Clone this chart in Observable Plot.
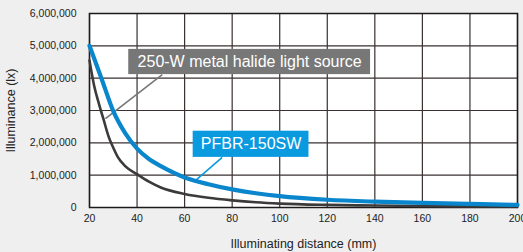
<!DOCTYPE html>
<html>
<head>
<meta charset="utf-8">
<script src="https://cdn.jsdelivr.net/npm/d3@7"></script>
<script src="https://cdn.jsdelivr.net/npm/@observablehq/plot@0.6"></script>
<style>
  html, body { margin: 0; padding: 0; background: #efefef; }
  #chart svg { display: block; }
</style>
</head>
<body>
<div id="chart"></div>
<script>
// Data (illuminance in lx vs distance in mm)
const pfbrDistance = [20, 25, 30, 35, 40, 45, 50, 60, 70, 80, 90, 100, 120, 140, 160, 180, 200];
const pfbrLux = [5000000, 4000000, 2980000, 2300000, 1820000, 1500000, 1280000, 930000, 720000, 560000, 440000, 350000, 240000, 180000, 140000, 110000, 80000];

const halideDistance = [20, 22, 24, 26, 28, 30, 32, 35, 40, 45, 50, 60, 70, 80, 90, 100, 120, 140, 160, 180, 200];
const halideLux = [4550000, 3750000, 3200000, 2700000, 2200000, 1850000, 1550000, 1280000, 1030000, 800000, 620000, 420000, 300000, 220000, 160000, 120000, 80000, 60000, 45000, 35000, 30000];

const xTicks = [20, 40, 60, 80, 100, 120, 140, 160, 180, 200];
const yTicks = [0, 1000000, 2000000, 3000000, 4000000, 5000000, 6000000];

const seriesNames = ["250-W metal halide light source", "PFBR-150SW"];

// Annotation placement (data units)
const annot = [
  {name: seriesNames[0], x1: 36.5, x2: 138.2, y1: 4110000, y2: 4890000, lx1: 50.6, ly1: 4110000, lx2: 26.7, ly2: 2750000, fill: "#777777"},
  {name: seriesNames[1], x1: 63.6, x2: 112.3, y1: 1550000, y2: 2360000, lx1: 75.8, ly1: 1550000, lx2: 63.9, ly2: 790000, fill: "#0a9ae0"}
];

const halide = halideDistance.map((d, i) => ({d, v: halideLux[i]}));
const pfbr = pfbrDistance.map((d, i) => ({d, v: pfbrLux[i]}));

const chart = Plot.plot({
  width: 523,
  height: 252,
  marginLeft: 89,
  marginRight: 6,
  marginTop: 13,
  marginBottom: 45,
  style: {background: "transparent", fontFamily: "Liberation Sans, Arial, sans-serif", fontSize: "12.5px", color: "#222"},
  x: {domain: [20, 200]},
  y: {domain: [0, 6000000]},
  marks: [
    Plot.frame({fill: "white", stroke: null}),
    Plot.gridX(xTicks, {stroke: "#3a3030", strokeOpacity: 1, strokeWidth: 1.2}),
    Plot.gridY(yTicks, {stroke: "#3a3030", strokeOpacity: 1, strokeWidth: 1.2}),
    Plot.frame({stroke: "#1e1a1a", strokeWidth: 1.5}),
    Plot.axisX(xTicks, {tickSize: 0, tickPadding: 7, fontSize: 10.5, label: null}),
    Plot.axisX({label: "Illuminating distance (mm)", labelAnchor: "center", labelArrow: "none", labelOffset: 40, ticks: [], tickSize: 0}),
    Plot.axisY(yTicks, {tickSize: 0, tickPadding: 13, fontSize: 10.5, tickFormat: d3.format(","), label: null}),
    Plot.axisY({label: "Illuminance (lx)", labelAnchor: "center", labelArrow: "none", labelOffset: 83, ticks: [], tickSize: 0}),
    Plot.link(annot, {x1: "lx1", y1: "ly1", x2: "lx2", y2: "ly2", stroke: "fill", strokeWidth: 1.6}),
    Plot.line(halide, {x: "d", y: "v", stroke: "#3c3a3a", strokeWidth: 2.6, curve: "monotone-x"}),
    Plot.line(pfbr, {x: "d", y: "v", stroke: "#0a86cc", strokeWidth: 4.2, curve: "monotone-x"}),
    Plot.rect(annot, {x1: "x1", x2: "x2", y1: "y1", y2: "y2", fill: "fill"}),
    Plot.text(annot, {x: d => (d.x1 + d.x2) / 2, y: d => (d.y1 + d.y2) / 2, text: "name", fill: "white", fontSize: 16})
  ]
});
document.getElementById("chart").append(chart);
</script>
</body>
</html>
